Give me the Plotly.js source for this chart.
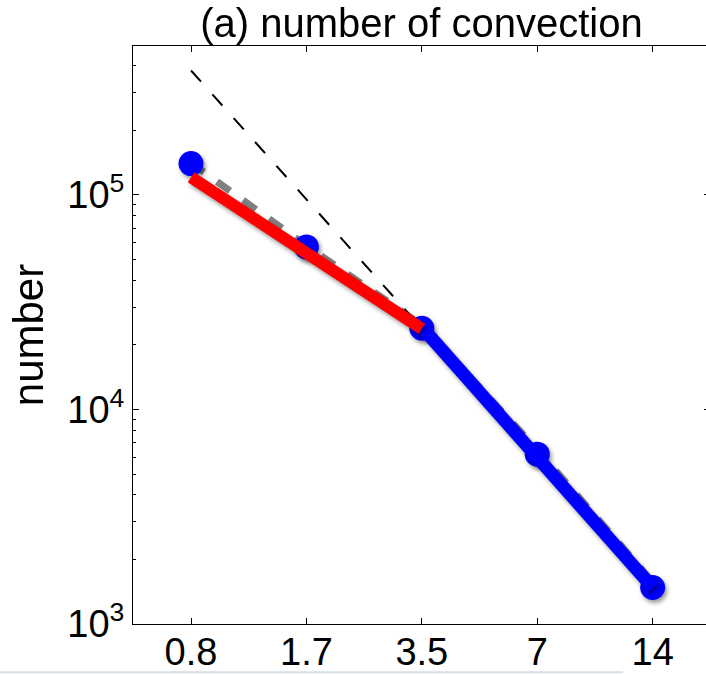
<!DOCTYPE html>
<html>
<head>
<meta charset="utf-8">
<script src="https://cdn.plot.ly/plotly-3.0.1.min.js"></script>
<style>
  html, body { margin: 0; padding: 0; overflow: hidden; background: #fff; width: 706px; height: 674px; }
  #chart { width: 712px; height: 674px; }
  .scatterlayer .trace:nth-child(3),
  .scatterlayer .trace:nth-child(4),
  .scatterlayer .trace:nth-child(5) { filter: drop-shadow(2px 3px 2px rgba(0,0,0,0.4)); }
</style>
</head>
<body>
<div id="chart"></div>
<script>
// ---- data ----
const scales = [0.875, 1.75, 3.5, 7, 14];            // x positions
const scaleLabels = ['0.8', '1.7', '3.5', '7', '14'];
const convectionNumber = [1.40e5, 5.72e4, 2.39e4, 6.19e3, 1.48e3];

// gray dashed reference curve
const grayCurve = [1.41e5, 5.8e4, 2.47e4, 6.5e3, 1.57e3];

const smallFitX = [0.875, 3.5];
const smallFitY = [1.21e5, 2.375e4];

const largeFitX = [3.5, 14];
const largeFitY = [2.42e4, 1.48e3];

const extrapX = [0.875, 3.5];
const extrapY = [3.80e5, 2.39e4];

const yMajor = [1e3, 1e4, 1e5];
const yMajorLabels = ['10<sup>3</sup>', '10<sup>4</sup>', '10<sup>5</sup>'];
const yMinor = [2e3,3e3,4e3,5e3,6e3,7e3,8e3,9e3,
                2e4,3e4,4e4,5e4,6e4,7e4,8e4,9e4,
                2e5,3e5,4e5,5e5];

const FONT = '"Liberation Sans", Arial, Helvetica, sans-serif';

const traces = [
  { // gray dashed curve
    x: scales, y: grayCurve, type: 'scatter', mode: 'lines',
    line: { color: '#808080', width: 7, dash: '16px,16px' },
    hoverinfo: 'skip', showlegend: false
  },
  { // black dashed extrapolation
    x: extrapX, y: extrapY, type: 'scatter', mode: 'lines',
    line: { color: '#000000', width: 2, dash: '15px,17px' },
    hoverinfo: 'skip', showlegend: false
  },
  { // blue data points
    x: scales, y: convectionNumber, type: 'scatter', mode: 'markers',
    marker: { color: '#0000ff', size: 25, line: { width: 0 } },
    showlegend: false
  },
  { // blue fit
    x: largeFitX, y: largeFitY, type: 'scatter', mode: 'lines',
    line: { color: '#0000ff', width: 13 },
    showlegend: false
  },
  { // red fit
    x: smallFitX, y: smallFitY, type: 'scatter', mode: 'lines',
    line: { color: '#ff0000', width: 12 },
    showlegend: false
  }
];

const layout = {
  width: 712, height: 674,
  margin: { l: 133, r: 2, t: 46, b: 50, pad: 0 },
  paper_bgcolor: '#ffffff', plot_bgcolor: '#ffffff',
  font: { family: FONT, color: '#000000' },
  showlegend: false,
  title: {
    text: '(a) number of convection',
    font: { family: FONT, size: 40, color: '#000' },
    x: 0.5, xref: 'paper', xanchor: 'center',
    y: 0.966, yref: 'container', yanchor: 'middle'
  },
  xaxis: {
    type: 'log',
    range: [-0.2093, 1.2957],
    tickmode: 'array', tickvals: scales, ticktext: scaleLabels,
    ticks: 'inside', ticklen: 6, tickwidth: 1, tickcolor: '#000',
    ticklabelstandoff: -6,
    showline: true, linecolor: '#000', linewidth: 1, mirror: 'ticks',
    showgrid: false, zeroline: false, automargin: false,
    tickfont: { family: FONT, size: 38, color: '#000' }
  },
  yaxis: {
    type: 'log',
    range: [3, 5.694],
    tickmode: 'array', tickvals: yMajor, ticktext: yMajorLabels,
    ticks: 'inside', ticklen: 6, tickwidth: 1, tickcolor: '#000',
    minor: { tickmode: 'array', tickvals: yMinor, ticks: 'inside', ticklen: 3, tickwidth: 1, tickcolor: '#000', showgrid: false },
    showline: true, linecolor: '#000', linewidth: 1, mirror: 'ticks',
    showgrid: false, zeroline: false, automargin: false,
    tickfont: { family: FONT, size: 38, color: '#000' },
    title: { text: 'number', font: { family: FONT, size: 42, color: '#000' }, standoff: 10 }
  },
  shapes: [
    { type: 'line', xref: 'paper', yref: 'paper',
      x0: -0.2305, x1: 0.849, y0: -0.0835, y1: -0.0835,
      line: { color: '#d3dfeb', width: 2 } }
  ]
};

Plotly.newPlot('chart', traces, layout, { staticPlot: true, displayModeBar: false });
</script>
</body>
</html>
